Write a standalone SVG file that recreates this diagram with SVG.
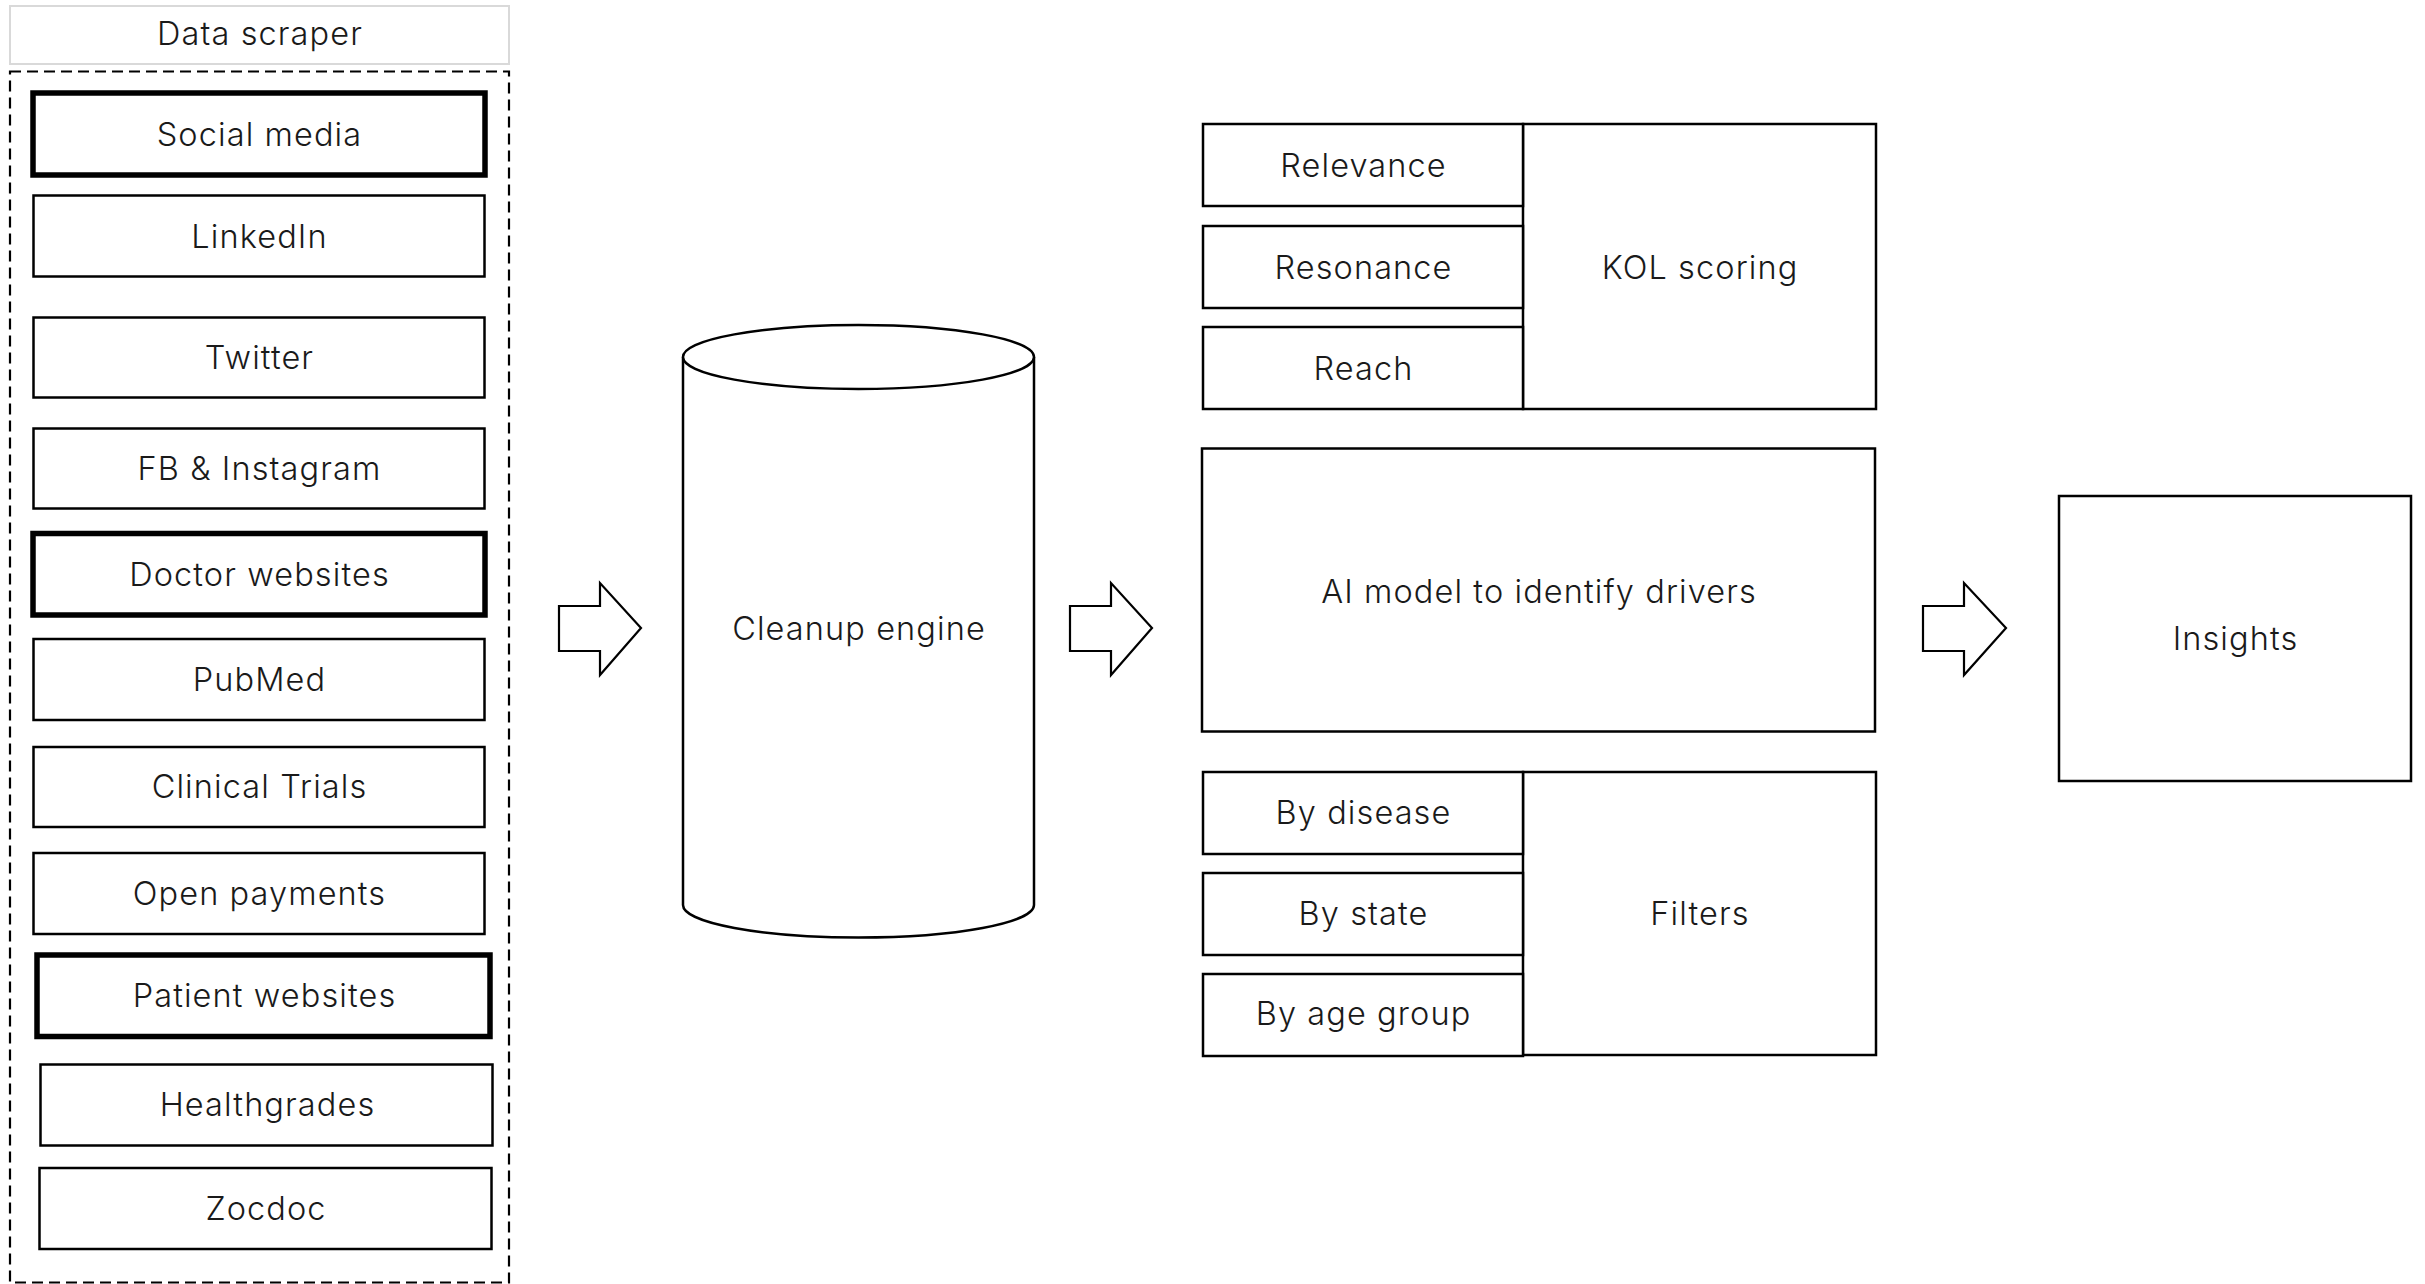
<svg xmlns="http://www.w3.org/2000/svg" width="2425" height="1284" viewBox="0 0 2425 1284">
<style>
.b{fill:#fff;stroke:#000;stroke-width:2.5}
.k{fill:#fff;stroke:#000;stroke-width:5.5}
.t{font-family:Inter,"Open Sans","Liberation Sans",sans-serif;font-weight:300;font-size:32.5px;letter-spacing:1.1px;fill:#1a1a1a;text-anchor:middle}
.ar{fill:#fff;stroke:#000;stroke-width:2.2;stroke-linejoin:miter}
</style>
<rect width="2425" height="1284" fill="#fff"/>
<g id="data-scraper">
<rect x="10" y="6" width="499" height="58" fill="#fff" stroke="#d9d9d9" stroke-width="2"/>
<text class="t" x="260" y="45">Data scraper</text>
<rect x="10" y="71.5" width="499" height="1211" fill="none" stroke="#000" stroke-width="2.2" stroke-dasharray="11 6"/>
</g>
<g id="social-media"><rect class="k" x="33" y="93" width="452" height="82"/><text class="t" x="259.5" y="146">Social media</text></g>
<g id="linkedin"><rect class="b" x="33.5" y="195.5" width="451" height="81"/><text class="t" x="259.5" y="248">LinkedIn</text></g>
<g id="twitter"><rect class="b" x="33.5" y="317.5" width="451" height="80"/><text class="t" x="259.5" y="369">Twitter</text></g>
<g id="fb-instagram"><rect class="b" x="33.5" y="428.5" width="451" height="80"/><text class="t" x="259.5" y="480">FB &amp; Instagram</text></g>
<g id="doctor-websites"><rect class="k" x="33" y="533.5" width="452" height="81.5"/><text class="t" x="259.5" y="586">Doctor websites</text></g>
<g id="pubmed"><rect class="b" x="33.5" y="639" width="451" height="81"/><text class="t" x="259.5" y="691">PubMed</text></g>
<g id="clinical-trials"><rect class="b" x="33.5" y="747" width="451" height="80"/><text class="t" x="259.5" y="798">Clinical Trials</text></g>
<g id="open-payments"><rect class="b" x="33.5" y="853" width="451" height="81"/><text class="t" x="259.5" y="905">Open payments</text></g>
<g id="patient-websites"><rect class="k" x="37" y="955" width="453" height="81.5"/><text class="t" x="264.5" y="1007">Patient websites</text></g>
<g id="healthgrades"><rect class="b" x="40.5" y="1064.5" width="452" height="81"/><text class="t" x="267.5" y="1116">Healthgrades</text></g>
<g id="zocdoc"><rect class="b" x="39.5" y="1168" width="452" height="81"/><text class="t" x="266" y="1220">Zocdoc</text></g>

<g id="cleanup-engine">
<path d="M683,357 L683,905 A175.5,32.5 0 0 0 1034,905 L1034,357" fill="#fff" stroke="#000" stroke-width="2.5"/>
<ellipse cx="858.5" cy="357" rx="175.5" ry="32" fill="#fff" stroke="#000" stroke-width="2.5"/>
<text class="t" x="859" y="640">Cleanup engine</text>
</g>

<g id="kol-scoring">
<rect class="b" x="1523" y="124" width="353" height="285"/>
<text class="t" x="1700" y="279">KOL scoring</text>
</g>
<g id="relevance"><rect class="b" x="1203" y="124" width="320" height="82"/><text class="t" x="1363.5" y="177">Relevance</text></g>
<g id="resonance"><rect class="b" x="1203" y="226" width="320" height="82"/><text class="t" x="1363.5" y="279">Resonance</text></g>
<g id="reach"><rect class="b" x="1203" y="327" width="320" height="82"/><text class="t" x="1363.5" y="380">Reach</text></g>

<g id="ai-model"><rect class="b" x="1202" y="448.5" width="673" height="283"/><text class="t" x="1539" y="603">AI model to identify drivers</text></g>

<g id="filters">
<rect class="b" x="1523" y="772" width="353" height="283"/>
<text class="t" x="1700" y="925">Filters</text>
</g>
<g id="by-disease"><rect class="b" x="1203" y="772" width="320" height="82"/><text class="t" x="1363.5" y="824">By disease</text></g>
<g id="by-state"><rect class="b" x="1203" y="873" width="320" height="82"/><text class="t" x="1363.5" y="925">By state</text></g>
<g id="by-age-group"><rect class="b" x="1203" y="974" width="320" height="82"/><text class="t" x="1363.5" y="1025">By age group</text></g>

<g id="insights"><rect class="b" x="2059" y="496" width="352" height="285"/><text class="t" x="2235.5" y="650">Insights</text></g>

<g id="connectors">
<path class="ar" d="M559,606 H600 V583 L641,628 L600,675 V651 H559 Z"/>
<path class="ar" d="M1070,606 H1111 V583 L1152,628 L1111,675 V651 H1070 Z"/>
<path class="ar" d="M1923,606 H1964 V583 L2006,628 L1964,675 V651 H1923 Z"/>
</g>
</svg>
